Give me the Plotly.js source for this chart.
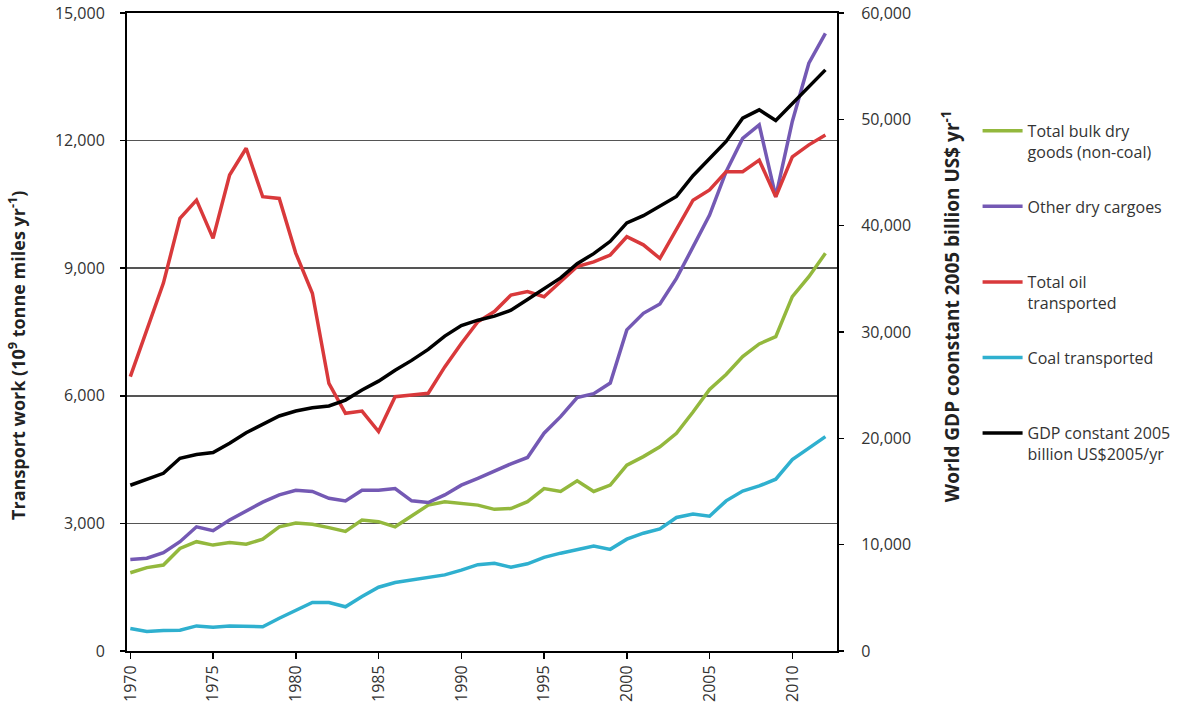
<!DOCTYPE html>
<html>
<head>
<meta charset="utf-8">
<script src="https://cdn.plot.ly/plotly-3.0.1.min.js"></script>
<style>html,body{margin:0;padding:0;background:#fff;}#chart{width:1188px;height:704px;}</style>
</head>
<body>
<div id="chart"></div>
<script>
const years = [1970,1971,1972,1973,1974,1975,1976,1977,1978,1979,1980,1981,1982,1983,1984,1985,1986,1987,1988,1989,1990,1991,1992,1993,1994,1995,1996,1997,1998,1999,2000,2001,2002,2003,2004,2005,2006,2007,2008,2009,2010,2011,2012];

const bulkDry = [1840,1960,2020,2410,2570,2490,2550,2510,2630,2920,3010,2980,2900,2810,3080,3040,2920,3170,3430,3510,3460,3430,3330,3350,3510,3820,3750,4000,3750,3900,4370,4570,4800,5120,5620,6150,6500,6920,7220,7390,8330,8800,9350];

const otherDry = [2150,2180,2310,2570,2920,2830,3080,3290,3500,3670,3780,3750,3590,3530,3780,3780,3820,3530,3490,3670,3900,4060,4240,4400,4550,5120,5510,5960,6050,6300,7550,7940,8160,8760,9500,10250,11270,12050,12370,10680,12450,13820,14520];

const oil = [6450,7550,8650,10170,10600,9700,11190,11820,10680,10640,9350,8410,6290,5590,5640,5160,5980,6020,6060,6680,7230,7740,7980,8370,8450,8330,8680,9040,9150,9310,9740,9550,9230,9900,10600,10840,11270,11270,11540,10680,11620,11900,12130];

const coal = [530,460,480,490,590,560,590,590,570,770,960,1140,1140,1040,1280,1500,1610,1670,1710,1790,1900,2030,2060,1970,2050,2200,2300,2390,2470,2390,2630,2770,2870,3140,3220,3170,3530,3760,3880,4040,4500,4770,5040];

const gdp = [15590,16150,16710,18120,18470,18660,19530,20530,21320,22100,22570,22880,23040,23600,24540,25380,26410,27330,28360,29610,30610,31110,31490,32050,33050,34060,35090,36430,37370,38530,40260,40940,41810,42750,44700,46260,47920,50110,50890,49890,51500,53080,54650];

const seriesNames = [
  'Total bulk dry<br>goods (non-coal)',
  'Other dry cargoes<br>\u00a0',
  'Total oil<br>transported',
  'Coal transported<br>\u00a0',
  'GDP constant 2005<br>billion US$2005/yr'
];
const seriesColors = ['#93b83d','#7459b4','#d9393b','#2fb0cf','#000000'];

const font = 'Open Sans, Liberation Sans, sans-serif';

const seriesData = [bulkDry, otherDry, oil, coal, gdp];
const traces = seriesData.map((vals, i) => ({
  x: years,
  y: vals,
  type: 'scatter',
  mode: 'lines',
  name: seriesNames[i],
  legendgroup: 'g' + i,
  yaxis: i === 4 ? 'y2' : 'y',
  line: {color: seriesColors[i], width: 3.5},
  hoverinfo: 'x+y'
}));

const layout = {
  width: 1188,
  height: 704,
  paper_bgcolor: '#ffffff',
  plot_bgcolor: '#ffffff',
  margin: {l: 127, r: 348, t: 13, b: 53},
  font: {family: font, size: 16, color: '#333333'},
  showlegend: true,
  legend: {
    x: 1.198, y: 0.842, xanchor: 'left', yanchor: 'top',
    font: {family: font, size: 16, color: '#333333'},
    valign: 'top',
    tracegroupgap: 31,
    itemwidth: 40,
    bgcolor: 'rgba(0,0,0,0)'
  },
  xaxis: {
    range: [1969.8, 2012.7],
    tickvals: [1970,1975,1980,1985,1990,1995,2000,2005,2010],
    ticktext: ['1970','1975','1980','1985','1990','1995','2000','2005','2010'],
    tickangle: -90,
    ticks: 'outside', ticklen: 6, tickcolor: '#000', tickwidth: 1.5,
    showline: true, linecolor: '#000', linewidth: 2, mirror: true,
    showgrid: false, zeroline: false,
    tickfont: {family: font, size: 16, color: '#333333'}
  },
  yaxis: {
    range: [0, 15000],
    tickvals: [0,3000,6000,9000,12000,15000],
    ticktext: ['0','3,000','6,000','9,000','12,000','15,000'],
    ticks: 'outside', ticklen: 5, tickcolor: '#000', tickwidth: 1.5,
    ticklabelstandoff: 12,
    showline: true, linecolor: '#000', linewidth: 2,
    showgrid: true, gridcolor: '#555555', gridwidth: 1.5,
    zeroline: false,
    tickfont: {family: font, size: 16, color: '#333333'}
  },
  yaxis2: {
    range: [0, 60000],
    overlaying: 'y', side: 'right',
    tickvals: [0,10000,20000,30000,40000,50000,60000],
    ticktext: ['0','10,000','20,000','30,000','40,000','50,000','60,000'],
    ticks: 'outside', ticklen: 5, tickcolor: '#000', tickwidth: 1.5,
    ticklabelstandoff: 14,
    showline: true, linecolor: '#000', linewidth: 2,
    showgrid: false, zeroline: false,
    tickfont: {family: font, size: 16, color: '#333333'}
  },
  annotations: [
    {
      text: 'Transport work (10<sup>9</sup> tonne miles yr<sup>-1</sup>)',
      xref: 'paper', yref: 'paper', x: -0.155, y: 0.464,
      xanchor: 'center', yanchor: 'middle', textangle: -90, showarrow: false,
      font: {family: font, size: 18, color: '#222222', weight: 'bold'}
    },
    {
      text: 'World GDP coonstant 2005 billion US$ yr<sup>-1</sup>',
      xref: 'paper', yref: 'paper', x: 1.161, y: 0.541,
      xanchor: 'center', yanchor: 'middle', textangle: -90, showarrow: false,
      font: {family: font, size: 19, color: '#222222', weight: 'bold'}
    }
  ]
};

Plotly.newPlot('chart', traces, layout, {staticPlot: true, displayModeBar: false});
</script>
</body>
</html>
